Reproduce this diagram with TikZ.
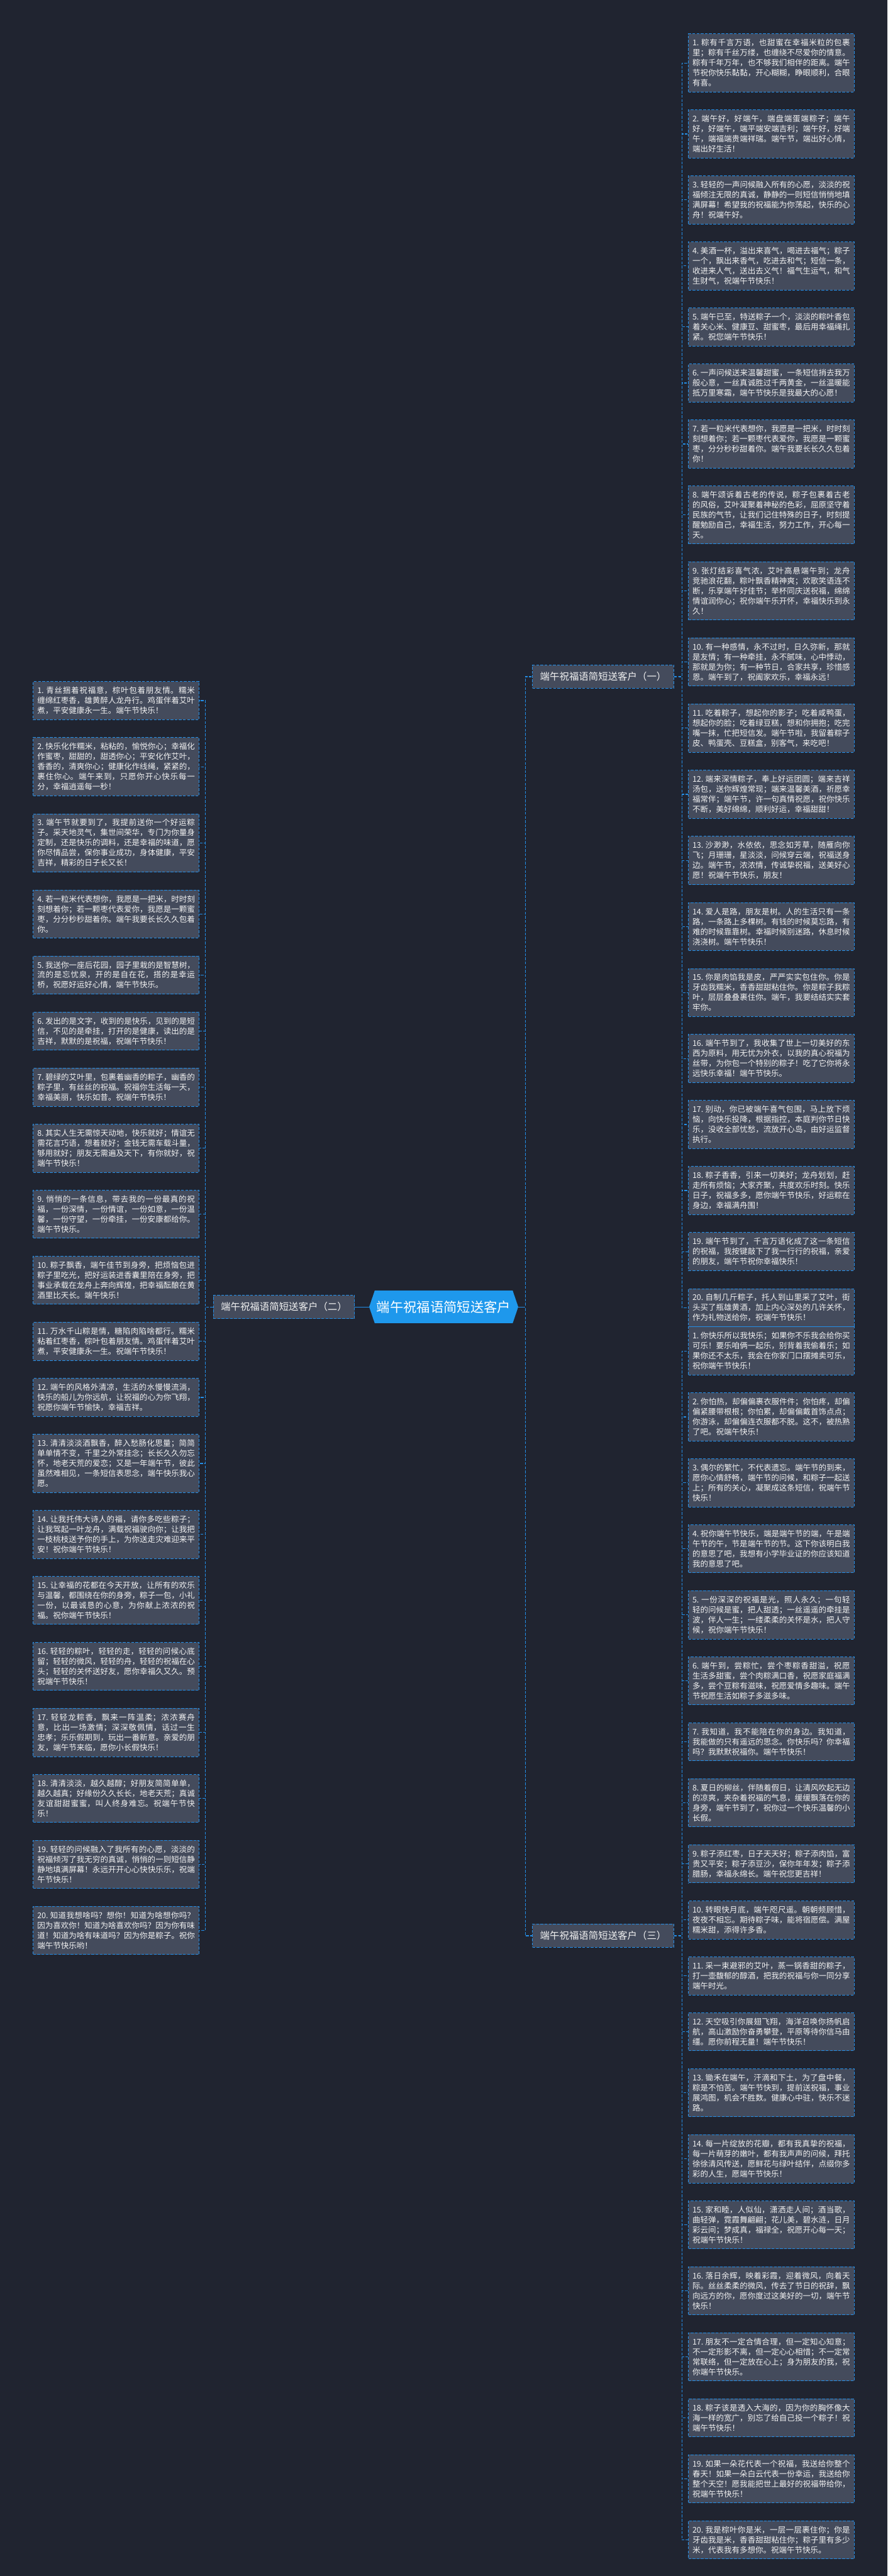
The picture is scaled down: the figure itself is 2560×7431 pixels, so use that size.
\documentclass[tikz,border=0pt]{standalone}
\usepackage{fontspec}
\setmainfont{Noto Sans CJK SC}
\usetikzlibrary{positioning}
\XeTeXlinebreaklocale "zh"
\XeTeXlinebreakskip=0pt plus 1pt
\tolerance=4000
\frenchspacing
\definecolor{bgcol}{RGB}{32,36,48}
\definecolor{boxcol}{RGB}{68,75,92}
\definecolor{linecol}{RGB}{36,142,230}
\definecolor{hubcol}{RGB}{30,152,236}
\definecolor{txtcol}{RGB}{242,242,242}
\tikzset{
  leaf/.style={draw=linecol, line width=0.9pt, dash pattern=on 4pt off 2pt, fill=boxcol, text=txtcol,
    text width=227.4pt, inner xsep=5.8pt, inner ysep=7.6pt, align=justify,
    font=\fontsize{11.35pt}{14.5pt}\selectfont, anchor=north west},
  branch/.style={draw=linecol, line width=0.9pt, dash pattern=on 4pt off 2pt, fill=boxcol, text=txtcol,
    font=\fontsize{14pt}{16pt}\selectfont, inner xsep=11pt, minimum height=33.5pt},
  hub/.style={text=white, font=\fontsize{19.35pt}{22pt}\selectfont, minimum width=215pt, minimum height=47pt, inner sep=0pt},
  link/.style={draw=linecol, line width=1pt, dash pattern=on 4pt off 2pt},
  solidlink/.style={draw=linecol, line width=1pt}
}
\begin{document}
\begin{tikzpicture}[x=0.5pt, y=-0.5pt]
\fill[bgcol] (0,0) rectangle (2560,7431);
\useasboundingbox (0,0) rectangle (2560,7431);

\fill[hubcol] (1065,3770) -- (1081,3723) -- (1479,3723) -- (1495,3770) -- (1479,3817) -- (1081,3817) -- cycle;
\node[hub] (root) at (1280,3770) {端午祝福语简短送客户};

\node[branch, anchor=west] (one) at (1535,1952) {端午祝福语简短送客户（一）};
\node[branch, anchor=east] (two) at (1024,3770) {端午祝福语简短送客户（二）};
\node[branch, anchor=west] (three) at (1535,5584) {端午祝福语简短送客户（三）};

\draw[link] (root.east) -- ++(10pt,0) |- (one.west);
\draw[link] (root.east) -- ++(10pt,0) |- (three.west);
\draw[solidlink] (root.east) -- ++(10pt,0);
\draw[solidlink] (root.west) -- (two.east);

\foreach \t [count=\i] in {
粽有千言万语，也甜蜜在幸福米粒的包裹里；粽有千丝万缕，也缠绕不尽爱你的情意。粽有千年万年，也不够我们相伴的距离。端午节祝你快乐黏黏，开心糊糊，睁眼顺利，合眼有喜。,
端午好，好端午，端盘端蛋端粽子；端午好，好端午，端平端安端吉利；端午好，好端午，端福端贵端祥瑞。端午节，端出好心情，端出好生活！,
轻轻的一声问候融入所有的心愿，淡淡的祝福倾注无限的真诚，静静的一则短信悄悄地填满屏幕！希望我的祝福能为你荡起，快乐的心舟！祝端午好。,
美酒一杯，溢出来喜气，喝进去福气；粽子一个，飘出来香气，吃进去和气；短信一条，收进来人气，送出去义气！福气生运气，和气生财气，祝端午节快乐！,
端午已至，特送粽子一个，淡淡的粽叶香包着关心米、健康豆、甜蜜枣，最后用幸福绳扎紧。祝您端午节快乐！,
一声问候送来温馨甜蜜，一条短信捎去我万般心意，一丝真诚胜过千两黄金，一丝温暖能抵万里寒霜，端午节快乐是我最大的心愿！,
若一粒米代表想你，我愿是一把米，时时刻刻想着你；若一颗枣代表爱你，我愿是一颗蜜枣，分分秒秒甜着你。端午我要长长久久包着你！,
端午颂诉着古老的传说，粽子包裹着古老的风俗，艾叶凝聚着神秘的色彩，屈原坚守着民族的气节，让我们记住特殊的日子，时刻提醒勉励自己，幸福生活，努力工作，开心每一天。,
张灯结彩喜气浓，艾叶高悬端午到；龙舟竞驰浪花翻，粽叶飘香精神爽；欢歌笑语连不断，乐享端午好佳节；举杯同庆送祝福，绵绵情谊润你心；祝你端午乐开怀，幸福快乐到永久！,
有一种感情，永不过时，日久弥新，那就是友情；有一种牵挂，永不腻味，心中悸动，那就是为你；有一种节日，合家共享，珍惜感恩。端午到了，祝阖家欢乐，幸福永远！,
吃着粽子，想起你的影子；吃着咸鸭蛋，想起你的脸；吃着绿豆糕，想和你拥抱；吃完嘴一抹，忙把短信发。端午节啦，我留着粽子皮、鸭蛋壳、豆糕盒，别客气，来吃吧！,
端来深情粽子，奉上好运团圆；端来吉祥汤包，送你辉煌常现；端来温馨美酒，祈愿幸福常伴；端午节，许一句真情祝愿，祝你快乐不断，美好绵绵，顺利好运，幸福甜甜！,
沙渺渺，水依依，思念如芳草，随雁向你飞；月珊珊，星淡淡，问候穿云端，祝福送身边。端午节，浓浓情，传诚挚祝福，送美好心愿！祝端午节快乐，朋友！,
爱人是路，朋友是树。人的生活只有一条路，一条路上多棵树。有钱的时候莫忘路，有难的时候靠靠树。幸福时候别迷路，休息时候浇浇树。端午节快乐！,
你是肉馅我是皮，严严实实包住你。你是牙齿我糯米，香香甜甜粘住你。你是粽子我粽叶，层层叠叠裹住你。端午，我要结结实实套牢你。,
端午节到了，我收集了世上一切美好的东西为原料，用无忧为外衣，以我的真心祝福为丝带，为你包一个特别的粽子！吃了它你将永远快乐幸福！端午节快乐。,
别动，你已被端午喜气包围，马上放下烦恼，向快乐投降，根据指控，本庭判你节日快乐，没收全部忧愁，流放开心岛，由好运监督执行。,
粽子香香，引来一切美好；龙舟划划，赶走所有烦恼；大家齐聚，共度欢乐时刻。快乐日子，祝福多多，愿你端午节快乐，好运粽在身边，幸福满舟围！,
端午节到了，千言万语化成了这一条短信的祝福，我按键敲下了我一行行的祝福，亲爱的朋友，端午节祝你幸福快乐！,
自制几斤粽子，托人到山里采了艾叶，街头买了瓶雄黄酒，加上内心深处的几许关怀，作为礼物送给你，祝端午节快乐！
}{
  \ifnum\i=1
    \node[leaf] (one-1) at (1985,97) {\i. \ignorespaces\t};
  \else
    \pgfmathtruncatemacro\j{\i-1}
    \node[leaf, below=25pt of one-\j] (one-\i) {\i. \ignorespaces\t};
  \fi
  \draw[link] (one.east) -- ++(11pt,0) |- (one-\i.west);
}

\foreach \t [count=\i] in {
青丝捆着祝福意，棕叶包着朋友情。糯米缠绵红枣香，雄黄醉人龙舟行。鸡蛋伴着艾叶煮，平安健康永一生。端午节快乐！,
快乐化作糯米，粘粘的，愉悦你心；幸福化作蜜枣，甜甜的，甜透你心；平安化作艾叶，香香的，清爽你心；健康化作线绳，紧紧的，裹住你心。端午来到，只愿你开心快乐每一分，幸福逍遥每一秒！,
端午节就要到了，我提前送你一个好运粽子。采天地灵气，集世间荣华，专门为你量身定制，还是快乐的调料，还是幸福的味道，愿你尽情品尝，保你事业成功，身体健康，平安吉祥，精彩的日子长又长！,
若一粒米代表想你，我愿是一把米，时时刻刻想着你；若一颗枣代表爱你，我愿是一颗蜜枣，分分秒秒甜着你。端午我要长长久久包着你。,
我送你一座后花园，园子里栽的是智慧树，流的是忘忧泉，开的是自在花，搭的是幸运桥，祝愿好运好心情，端午节快乐。,
发出的是文字，收到的是快乐，见到的是短信，不见的是牵挂，打开的是健康，读出的是吉祥，默默的是祝福，祝端午节快乐！,
碧绿的艾叶里，包裹着幽香的粽子，幽香的粽子里，有丝丝的祝福。祝福你生活每一天，幸福美丽，快乐如昔。祝端午节快乐！,
其实人生无需惊天动地，快乐就好；情谊无需花言巧语，想着就好；金钱无需车载斗量，够用就好；朋友无需遍及天下，有你就好，祝端午节快乐！,
悄悄的一条信息，带去我的一份最真的祝福，一份深情，一份情谊，一份如意，一份温馨，一份守望，一份牵挂，一份安康都给你。端午节快乐。,
粽子飘香，端午佳节到身旁，把烦恼包进粽子里吃光，把好运装进香囊里陪在身旁，把事业承载在龙舟上奔向辉煌，把幸福酝酿在黄酒里比天长。端午快乐！,
万水千山粽是情，糖陷肉陷啥都行。糯米粘着红枣香，棕叶包着朋友情。鸡蛋伴着艾叶煮，平安健康永一生。祝端午节快乐！,
端午的风格外清凉，生活的水慢慢流淌，快乐的船儿为你远航，让祝福的心为你飞翔，祝愿你端午节愉快，幸福吉祥。,
清清淡淡酒飘香，醉入愁肠化思量；简简单单情不变，千里之外常挂念；长长久久勿忘怀，地老天荒的爱恋；又是一年端午节，彼此虽然难相见，一条短信表思念，端午快乐我心愿。,
让我托伟大诗人的福，请你多吃些粽子；让我驾起一叶龙舟，满载祝福驶向你；让我把一枝桃枝送予你的手上，为你送走灾难迎来平安！祝你端午节快乐！,
让幸福的花都在今天开放，让所有的欢乐与温馨，都围绕在你的身旁，粽子一包，小礼一份，以最诚恳的心意，为你献上浓浓的祝福。祝你端午节快乐！,
轻轻的粽叶，轻轻的走，轻轻的问候心底留；轻轻的微风，轻轻的舟，轻轻的祝福在心头；轻轻的关怀送好友，愿你幸福久又久。预祝端午节快乐！,
轻轻龙粽香，飘来一阵温柔；浓浓赛舟意，比出一场激情；深深敬佩情，话过一生忠孝；乐乐假期到，玩出一番新意。亲爱的朋友，端午节来临，愿你小长假快乐！,
清清淡淡，越久越醇；好朋友简简单单，越久越真；好缘份久久长长，地老天荒；真诚友谊甜甜蜜蜜，叫人终身难忘。祝端午节快乐！,
轻轻的问候融入了我所有的心愿，淡淡的祝福倾泻了我无穷的真诚，悄悄的一则短信静静地填满屏幕！永远开开心心快快乐乐，祝端午节快乐！,
知道我想啥吗？想你！知道为啥想你吗？因为喜欢你！知道为啥喜欢你吗？因为你有味道！知道为啥有味道吗？因为你是粽子。祝你端午节快乐哟！
}{
  \ifnum\i=1
    \node[leaf] (two-1) at (95,1965) {\i. \ignorespaces\t};
  \else
    \pgfmathtruncatemacro\j{\i-1}
    \node[leaf, below=25pt of two-\j] (two-\i) {\i. \ignorespaces\t};
  \fi
  \draw[link] (two.west) -- ++(-11pt,0) |- (two-\i.east);
}

\foreach \t [count=\i] in {
你快乐所以我快乐；如果你不乐我会给你买可乐！要乐咱俩一起乐，别背着我偷着乐；如果你还不太乐，我会在你家门口摆摊卖可乐，祝你端午节快乐！,
你怕热，却偏偏裹衣服件件；你怕疼，却偏偏紧腰带根根；你怕累，却偏偏戴首饰点点；你游泳，却偏偏连衣服都不脱。这不，被热熟了吧。祝端午快乐！,
偶尔的繁忙，不代表遗忘。端午节的到来，愿你心情舒畅，端午节的问候，和粽子一起送上；所有的关心，凝聚成这条短信，祝端午节快乐！,
祝你端午节快乐，端是端午节的端，午是端午节的午，节是端午节的节。这下你该明白我的意思了吧，我想有小学毕业证的你应该知道我的意思了吧。,
一份深深的祝福是光，照人永久；一句轻轻的问候是蜜，把人甜透；一丝遥遥的牵挂是波，伴人一生；一缕柔柔的关怀是水，把人守候，祝你端午节快乐！,
端午到，尝粽忙，尝个枣粽香甜溢，祝愿生活多甜蜜，尝个肉粽满口香，祝愿家庭福满多，尝个豆粽有滋味，祝愿爱情多趣味。端午节祝愿生活如粽子多滋多味。,
我知道，我不能陪在你的身边。我知道，我能做的只有遥远的思念。你快乐吗？你幸福吗？我默默祝福你。端午节快乐！,
夏日的柳丝，伴随着假日，让清风吹起无边的凉爽，夹杂着祝福的气息，缓缓飘落在你的身旁，端午节到了，祝你过一个快乐温馨的小长假。,
粽子添红枣，日子天天好；粽子添肉馅，富贵又平安；粽子添豆沙，保你年年发；粽子添腊肠，幸福永绵长。端午祝您更吉祥！,
转眼快月底，端午咫尺遥。朝朝频顾惜，夜夜不相忘。期待粽子味，能将宿愿偿。满屋糯米甜，添得许多香。,
采一束避邪的艾叶，蒸一锅香甜的粽子，打一壶馥郁的醇酒，把我的祝福与你一同分享端午时光。,
天空吸引你展翅飞翔，海洋召唤你扬帆启航，高山激励你奋勇攀登，平原等待你信马由缰。愿你前程无量！端午节快乐！,
锄禾在端午，汗滴和下土，为了盘中餐，粽是不怕苦。端午节快到，提前送祝福，事业展鸿图，机会不胜数。健康心中驻，快乐不迷路。,
每一片绽放的花瓣，都有我真挚的祝福，每一片萌芽的嫩叶，都有我声声的问候，拜托徐徐清风传送，愿鲜花与绿叶结伴，点缀你多彩的人生，愿端午节快乐！,
家和睦，人似仙，潇洒走人间；酒当歌，曲轻弹，霓霞舞翩翩；花儿美，碧水涟，日月彩云间；梦成真，福禄全，祝愿开心每一天；祝端午节快乐！,
落日余辉，映着彩霞，迎着微风，向着天际。丝丝柔柔的微风，传去了节日的祝辞，飘向远方的你，愿你度过这美好的一切，端午节快乐！,
朋友不一定合情合理，但一定知心知意；不一定形影不离，但一定心心相惜；不一定常常联络，但一定放在心上；身为朋友的我，祝你端午节快乐。,
粽子该是透入大海的，因为你的胸怀像大海一样的宽广，别忘了给自己投一个粽子！祝端午节快乐！,
如果一朵花代表一个祝福，我送给你整个春天！如果一朵白云代表一份幸运，我送给你整个天空！愿我能把世上最好的祝福带给你，祝端午节快乐！,
我是棕叶你是米，一层一层裹住你；你是牙齿我是米，香香甜甜粘住你；粽子里有多少米，代表我有多想你。祝端午节快乐。
}{
  \ifnum\i=1
    \node[leaf] (three-1) at (1985,3827) {\i. \ignorespaces\t};
  \else
    \pgfmathtruncatemacro\j{\i-1}
    \node[leaf, below=25pt of three-\j] (three-\i) {\i. \ignorespaces\t};
  \fi
  \draw[link] (three.east) -- ++(11pt,0) |- (three-\i.west);
}
\end{tikzpicture}
\end{document}
